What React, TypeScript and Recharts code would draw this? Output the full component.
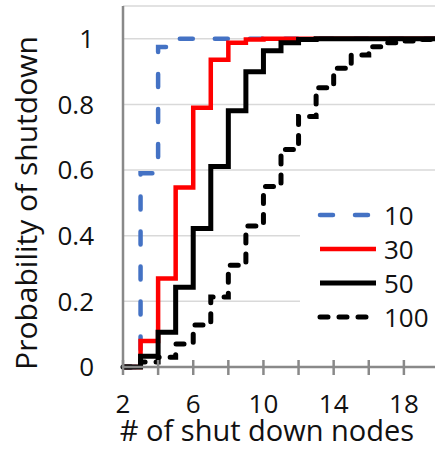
import React from 'react';
import { LineChart, Line, XAxis, YAxis, CartesianGrid, Legend } from 'recharts';

// number of shut down nodes
const nodes = [2, 3, 4, 5, 6, 7, 8, 9, 10, 11, 12, 13, 14, 15, 16, 17, 18, 19, 20];

// probability of shutdown per group size
const p10 = [0, 0.59, 0.975, 1, 1, 1, 1, 1, 1, 1, 1, 1, 1, 1, 1, 1, 1, 1, 1];
const p30 = [0, 0.079, 0.27, 0.547, 0.79, 0.936, 0.988, 0.998, 1, 1, 1, 1, 1, 1, 1, 1, 1, 1, 1];
const p50 = [0, 0.033, 0.106, 0.243, 0.422, 0.611, 0.781, 0.9, 0.964, 0.988, 0.998, 1, 1, 1, 1, 1, 1, 1, 1];
const p100 = [0, 0.015, 0.03, 0.07, 0.128, 0.213, 0.31, 0.43, 0.55, 0.663, 0.763, 0.851, 0.91, 0.951, 0.976, 0.988, 0.993, 0.998, 1];

const xTicks = [2, 4, 6, 8, 10, 12, 14, 16, 18, 20];
const xLabels = [2, 6, 10, 14, 18];
const yTicks = [0, 0.2, 0.4, 0.6, 0.8, 1];

const series = [
  { key: '10', color: '#4472c4', width: 4.5, dash: '13 22' },
  { key: '30', color: '#ff0000', width: 4.5, dash: undefined },
  { key: '50', color: '#000000', width: 5, dash: undefined },
  { key: '100', color: '#000000', width: 5, dash: '8 11' },
];

const data = nodes.map((n, i) => ({ n, '10': p10[i], '30': p30[i], '50': p50[i], '100': p100[i] }));

const FONT = '"Open Sans", Lato, sans-serif';
const AXIS = '#898989';

const XTick = ({ x, y, payload }: any) => (
  <g>
    <line x1={x} x2={x} y1={y - 7} y2={y + 8} stroke={AXIS} strokeWidth={2.5} />
    {xLabels.includes(payload.value) && (
      <text x={x} y={y + 46} textAnchor="middle" fontSize={26} fill="#111" fontFamily={FONT}>
        {payload.value}
      </text>
    )}
  </g>
);

const renderLegend = () => (
  <div style={{ paddingTop: 2, fontFamily: FONT, fontSize: 26, color: '#111' }}>
    {series.map((s) => (
      <div key={s.key} style={{ height: 34, display: 'flex', alignItems: 'center' }}>
        <svg width={84} height={34}>
          <line
            x1={20} x2={76} y1={17} y2={17}
            stroke={s.color} strokeWidth={s.width}
            strokeDasharray={s.dash} strokeLinecap={s.dash ? 'round' : 'butt'}
          />
        </svg>
        <span style={{ lineHeight: '34px' }}>{s.key}</span>
      </div>
    ))}
  </div>
);

const App: React.FC = () => (
  <div style={{ position: 'absolute', left: 0, top: 0, width: 435, height: 450, overflow: 'hidden', background: '#fff' }}>
    <LineChart width={441} height={450} data={data} margin={{ top: 6, right: 2, left: 0, bottom: 0 }}>
      <CartesianGrid vertical={false} stroke="#d9d9d9" strokeWidth={1.5} />
      <XAxis
        type="number" dataKey="n" domain={[2, 20]} ticks={xTicks} height={83}
        axisLine={{ stroke: AXIS, strokeWidth: 2.5 }} tickLine={false} tickSize={0} tickMargin={0}
        tick={<XTick />} interval={0}
        label={() => (
          <text x={267} y={441} textAnchor="middle" fontSize={29} fill="#111" fontFamily={FONT}>
            # of shut down nodes
          </text>
        )}
      />
      <YAxis
        type="number" domain={[0, 1.1]} ticks={yTicks} width={123}
        axisLine={{ stroke: AXIS, strokeWidth: 2.5 }} tickLine={false} tickSize={0} tickMargin={29}
        tick={{ fontSize: 26, fill: '#111', fontFamily: FONT }}
        label={() => (
          <text x={37} y={203} transform="rotate(-90 37 203)" textAnchor="middle" fontSize={30} fill="#111" fontFamily={FONT}>
            Probability of shutdown
          </text>
        )}
      />
      <Legend
        layout="vertical" align="center" verticalAlign="middle"
        content={renderLegend}
        wrapperStyle={{ left: 300, top: 196, width: 140, height: 145, background: '#fff' }}
      />
      {series.map((s) => (
        <Line
          key={s.key} type="stepAfter" dataKey={s.key} name={s.key}
          stroke={s.color} strokeWidth={s.width} strokeDasharray={s.dash}
          strokeLinecap={s.dash ? 'round' : 'butt'} strokeLinejoin="miter"
          dot={false} activeDot={false} isAnimationActive={false}
        />
      ))}
    </LineChart>
  </div>
);

export default App;
